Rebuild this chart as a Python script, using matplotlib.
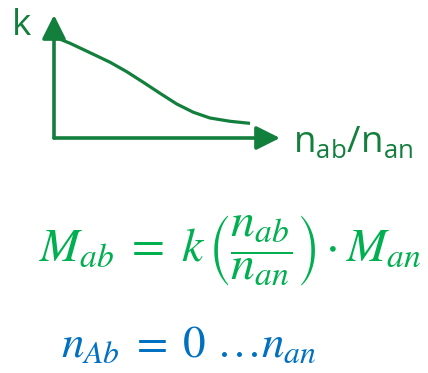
import matplotlib
matplotlib.use('Agg')
import matplotlib.pyplot as plt

plt.rcParams['font.family'] = ['Open Sans', 'DejaVu Sans']
plt.rcParams['mathtext.fontset'] = 'stix'

# curve k(n_ab/n_an)
ratio = [0.0, 0.082, 0.184, 0.286, 0.371, 0.456, 0.541, 0.626, 0.711, 0.796, 0.898, 1.0]
k_vals = [0.988, 0.924, 0.832, 0.739, 0.647, 0.543, 0.436, 0.332, 0.251, 0.195, 0.163, 0.143]

k_label = 'k'
x_label = r'$\mathregular{n_{ab}/n_{an}}$'
formula_main = r'$M_{ab}\;=\;k\,\left(\dfrac{n_{ab}}{n_{an}}\right)\cdot M_{an}$'
formula_range = r'$n_{Ab}\;=\;0\ \ldots n_{an}$'

dark_green = '#137F3C'
green = '#00B050'
blue = '#0070C0'

W, H = 428, 373
fig = plt.figure(figsize=(W / 100, H / 100), dpi=100)

ax = fig.add_axes([54 / W, 1 - 138 / H, (280 - 54) / W, 123 / H])
ax.set_xlim(0, 1.153)
ax.set_ylim(0, 1.2)
ax.axis('off')

ax.plot(ratio, k_vals, color=dark_green, lw=2.3, solid_capstyle='butt')

arrow = dict(arrowstyle='-|>,head_length=0.9,head_width=0.45', lw=2.6,
             color=dark_green, mutation_scale=16, shrinkA=0, shrinkB=0)
ax.annotate('', xy=(1, 0), xytext=(0, 0), xycoords='axes fraction', arrowprops=arrow)
ax.annotate('', xy=(0, 1), xytext=(0, 0), xycoords='axes fraction', arrowprops=arrow)

fig.text(12 / W, 1 - 35 / H, k_label, color=dark_green, fontsize=26.5,
         ha='left', va='baseline')
fig.text(293 / W, 1 - 152 / H, x_label, color=dark_green, fontsize=26.5,
         ha='left', va='baseline')

fig.text(230.5 / W, 1 - 251 / H, formula_main, color=green, fontsize=34.5,
         ha='center', va='center')
fig.text(188.5 / W, 1 - 357 / H, formula_range, color=blue, fontsize=32.5,
         ha='center', va='baseline')

fig.savefig('out.png', dpi=100)
